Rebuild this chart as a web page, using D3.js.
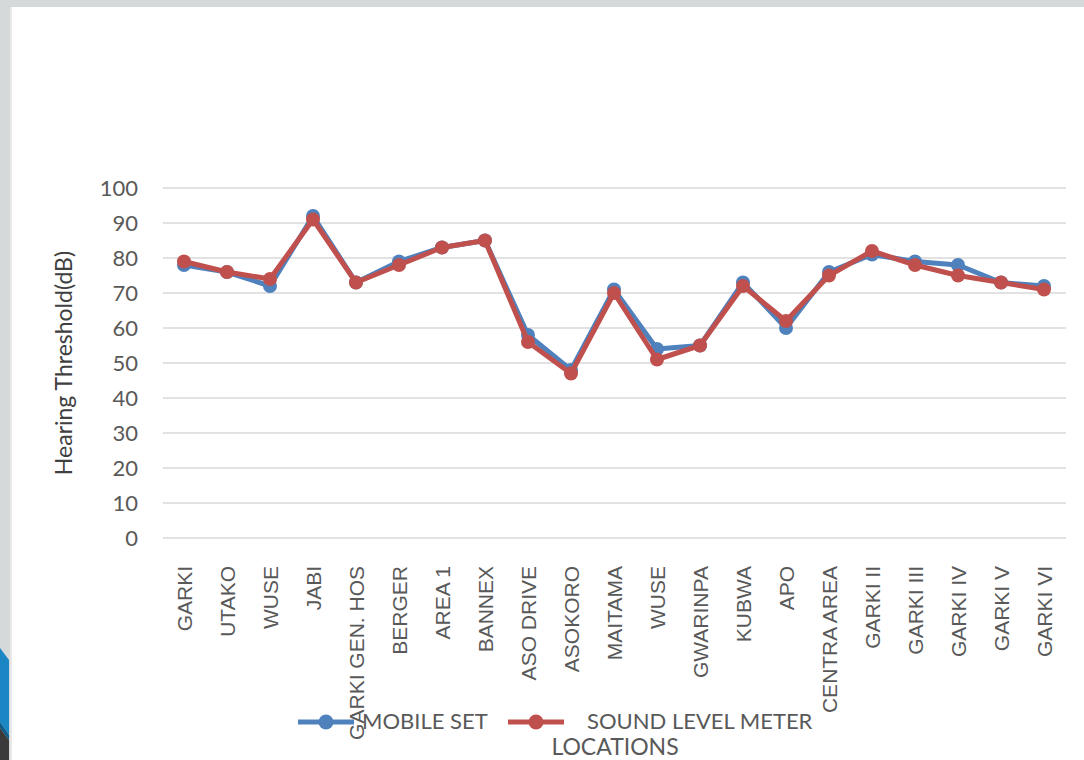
<!DOCTYPE html>
<html><head><meta charset="utf-8">
<script src="https://cdn.jsdelivr.net/npm/d3@7"></script>
<style>body{margin:0;background:#fff;}svg{display:block;font-family:Lato,"Open Sans",sans-serif;}</style>
</head><body><svg id="c" width="1084" height="760"></svg>
<script>
const categories = ["GARKI","UTAKO","WUSE","JABI","GARKI GEN. HOS","BERGER","AREA 1","BANNEX","ASO DRIVE","ASOKORO","MAITAMA","WUSE","GWARINPA","KUBWA","APO","CENTRA AREA","GARKI II","GARKI III","GARKI IV","GARKI V","GARKI VI"];
const mobileSet = [78,76,72,92,73,79,83,85,58,48,71,54,55,73,60,76,81,79,78,73,72];
const soundLevelMeter = [79,76,74,91,73,78,83,85,56,47,70,51,55,72,62,75,82,78,75,73,71];
const yTicks = [0,10,20,30,40,50,60,70,80,90,100];
const seriesNames = ["MOBILE SET","SOUND LEVEL METER"];
const colors = ["#4F81BD","#C0504D"];

const svg = d3.select("#c");
// slide frame
svg.append("rect").attr("x",0).attr("y",0).attr("width",1084).attr("height",760).attr("fill","#d6d9da");
svg.append("rect").attr("x",12).attr("y",7).attr("width",1072).attr("height",753).attr("fill","#fff");
svg.append("rect").attr("x",10).attr("y",7).attr("width",2).attr("height",753).attr("fill","#e8e8e8");
svg.append("path").attr("d","M0,648 L9,660 L9,735 L0,722 Z").attr("fill","#1a86c4");
svg.append("path").attr("d","M0,722 L9,735 L9,740 L0,728 Z").attr("fill","#0c5a86");
svg.append("path").attr("d","M0,728 L9,740 L9,760 L0,760 Z").attr("fill","#3a3a3a");

const x = d3.scalePoint().domain(d3.range(categories.length)).range([184,1044]);
const y = d3.scaleLinear().domain([0,100]).range([538,188]);

// gridlines
svg.append("g").selectAll("line").data(yTicks).join("line")
  .attr("x1",163).attr("x2",1066).attr("y1",d=>y(d)).attr("y2",d=>y(d))
  .attr("stroke","#d9d9d9").attr("stroke-width",1.6);

// y axis labels
const yAxis = d3.axisLeft(y).tickValues(yTicks).tickSize(0).tickPadding(0);
const gy = svg.append("g").attr("transform","translate(138,0)").call(yAxis);
gy.select(".domain").remove();
gy.selectAll("text").attr("font-size",22).attr("fill","#595959").attr("font-family","Lato,sans-serif");

// x axis labels
const xAxis = d3.axisBottom(x).tickFormat(i=>categories[i]).tickSize(0).tickPadding(0);
const gx = svg.append("g").attr("transform","translate(0,566)").call(xAxis);
gx.select(".domain").remove();
gx.selectAll("text").attr("font-size",21).attr("fill","#595959")
  .attr("transform","rotate(-90)").attr("text-anchor","end").attr("dy","0.35em").attr("x",0).attr("y",0);

// y title
svg.append("text").attr("transform","translate(72,363) rotate(-90)").attr("text-anchor","middle")
  .attr("font-size",23).attr("fill","#404040").text("Hearing Threshold(dB)");

const series = [mobileSet, soundLevelMeter];
const line = d3.line().x((d,i)=>x(i)).y(d=>y(d));
series.forEach((s,k)=>{
  svg.append("path").datum(s).attr("d",line).attr("fill","none").attr("stroke",colors[k]).attr("stroke-width",5).attr("stroke-linejoin","round");
  svg.append("g").selectAll("circle").data(s).join("circle")
    .attr("cx",(d,i)=>x(i)).attr("cy",d=>y(d)).attr("r",7).attr("fill",colors[k]);
});

// x title
svg.append("text").attr("x",615).attr("y",755).attr("text-anchor","middle").attr("font-size",23).attr("fill","#595959").text("LOCATIONS");

// legend
const leg = [{x:298,tx:362},{x:508,tx:587}];
leg.forEach((l,k)=>{
  svg.append("line").attr("x1",l.x).attr("x2",l.x+56).attr("y1",722).attr("y2",722).attr("stroke",colors[k]).attr("stroke-width",5);
  svg.append("circle").attr("cx",l.x+28).attr("cy",722).attr("r",7.5).attr("fill",colors[k]);
  svg.append("text").attr("x",l.tx).attr("y",721).attr("dy","0.35em").attr("font-size",22).attr("fill","#595959").text(seriesNames[k]);
});
</script></body></html>
